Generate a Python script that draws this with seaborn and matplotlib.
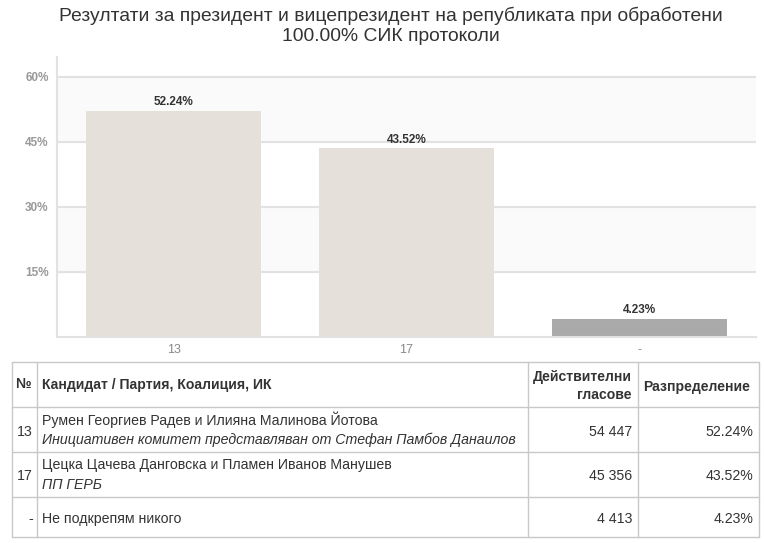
import matplotlib
matplotlib.use("Agg")
import matplotlib.pyplot as plt
import seaborn as sns
import pandas as pd

# data
categories = ["13", "17", "-"]
shares = [52.24, 43.52, 4.23]
bar_colors = ["#e5e0da", "#e5e0da", "#aaaaaa"]
yticks = [15, 30, 45, 60]

title = "Резултати за президент и вицепрезидент на републиката при обработени\n100.00% СИК протоколи"

col_headers = ["№", "Кандидат / Партия, Коалиция, ИК", "Действителни\nгласове", "Разпределение"]
row_numbers = ["13", "17", "-"]
row_names = ["Румен Георгиев Радев и Илияна Малинова Йотова",
             "Цецка Цачева Данговска и Пламен Иванов Манушев",
             "Не подкрепям никого"]
row_parties = ["Инициативен комитет представляван от Стефан Памбов Данаилов",
               "ПП ГЕРБ",
               ""]
row_votes = ["54 447", "45 356", "4 413"]
row_dist = ["52.24%", "43.52%", "4.23%"]

sns.set_theme(style="white")
plt.rcParams['font.family'] = ['Liberation Sans', 'DejaVu Sans']

W, H = 764, 543
fig = plt.figure(figsize=(W / 100, H / 100), dpi=100)
fig.patch.set_facecolor("white")

# chart area in pixels
px_left, px_right, px_top, px_bottom = 57, 756, 57, 337
ax = fig.add_axes([px_left / W, 1 - px_bottom / H, (px_right - px_left) / W, (px_bottom - px_top) / H])

df = pd.DataFrame({"cand": categories, "share": shares})

# alternating bands
ax.axhspan(15, 30, color="#fafafa", zorder=0)
ax.axhspan(45, 60, color="#fafafa", zorder=0)
for t in yticks:
    ax.axhline(t, color="#e2e2e2", lw=1.5, zorder=1)

sns.barplot(data=df, x="cand", y="share", hue="cand", palette=bar_colors,
            legend=False, width=0.747, saturation=1, linewidth=0, ax=ax, zorder=2)

for c in ax.containers:
    ax.bar_label(c, fmt="%.2f%%", padding=2, fontsize=8.5, fontweight="bold", color="#333333")

ax.set_ylim(0, 64.6)
ax.set_xlim(-0.5, 2.5)
ax.set_yticks(yticks)
ax.set_yticklabels([f"{t}%" for t in yticks])
ax.tick_params(axis="y", labelsize=8.5, labelcolor="#999999", length=0, pad=6)
for lab in ax.get_yticklabels():
    lab.set_fontweight("bold")
ax.tick_params(axis="x", labelsize=9, labelcolor="#888888", length=0, pad=5)
ax.set_xlabel("")
ax.set_ylabel("")
for s in ["top", "right"]:
    ax.spines[s].set_visible(False)
ax.spines["left"].set_color("#e2e2e2")
ax.spines["left"].set_linewidth(1.5)
ax.spines["bottom"].set_color("#e2e2e2")
ax.spines["bottom"].set_linewidth(1.5)
ax.set_facecolor("white")

fig.text(391 / W, 1 - 7 / H, title, ha="center", va="top", fontsize=13.9, color="#333333",
         linespacing=1.2)

# table overlay
tx = fig.add_axes([0, 0, 1, 1], zorder=-1)
tx.set_xlim(0, W)
tx.set_ylim(H, 0)
tx.axis("off")

x_cols = [12, 37, 528, 638, 759]
y_rows = [362, 407, 452, 497, 537]
line_c = "#c8c8c8"
for yy in y_rows:
    tx.plot([x_cols[0], x_cols[-1]], [yy, yy], color=line_c, lw=1)
for xx in x_cols:
    tx.plot([xx, xx], [y_rows[0], y_rows[-1]], color=line_c, lw=1)

hc = "#333333"
fs_h = 10.1
tx.text(15, 384.5, col_headers[0], ha="left", va="center", fontsize=fs_h, fontweight="bold", color=hc)
tx.text(42, 384.5, col_headers[1], ha="left", va="center", fontsize=fs_h, fontweight="bold", color=hc)
tx.text(632, 386, col_headers[2], ha="right", va="center", fontsize=fs_h, fontweight="bold",
        color=hc, linespacing=1.4, multialignment="right")
tx.text(643, 387, col_headers[3], ha="left", va="center", fontsize=fs_h, fontweight="bold", color=hc)

tc = "#333333"
fs_b = 10.2
for i in range(len(row_numbers)):
    top, bot = y_rows[i + 1], y_rows[i + 2]
    mid = (top + bot) / 2 + 2
    tx.text(33, mid, row_numbers[i], ha="right", va="center", fontsize=fs_b, color=tc)
    if row_parties[i]:
        tx.text(42, top + 13, row_names[i], ha="left", va="center", fontsize=fs_b, color=tc)
        tx.text(42, top + 33, row_parties[i], ha="left", va="center", fontsize=fs_b,
                style="italic", color=tc)
    else:
        tx.text(42, mid, row_names[i], ha="left", va="center", fontsize=fs_b, color=tc)
    tx.text(632, mid, row_votes[i], ha="right", va="center", fontsize=fs_b, color=tc)
    tx.text(753, mid, row_dist[i], ha="right", va="center", fontsize=fs_b, color=tc)

fig.savefig("out.png", dpi=100, facecolor="white")
